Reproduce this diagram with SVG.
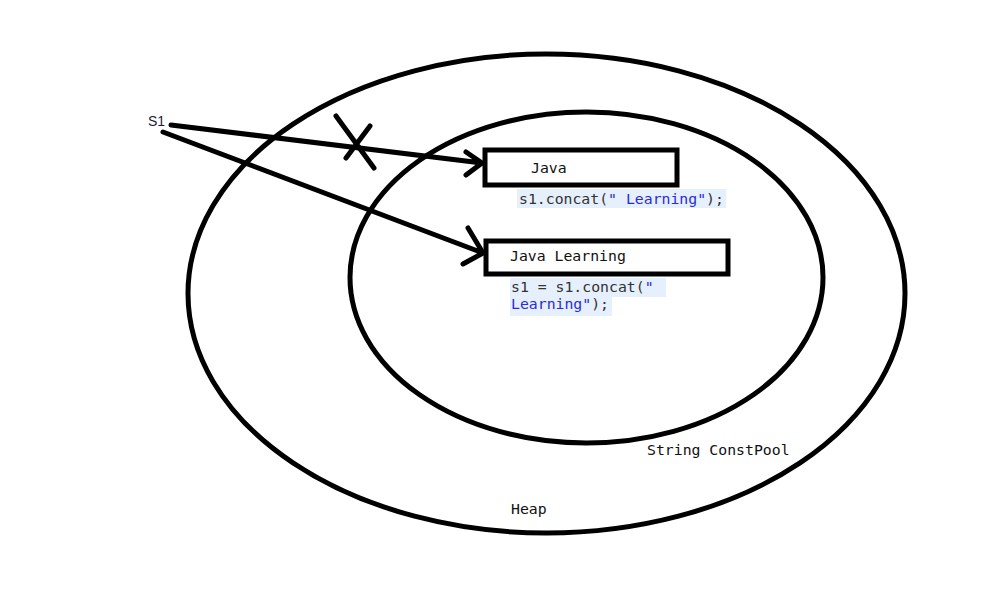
<svg xmlns="http://www.w3.org/2000/svg" width="1000" height="600" viewBox="0 0 1000 600">
<style>
.ring{fill:none;stroke:#000;stroke-width:5}
.box{fill:#fff;stroke:#000;stroke-width:5}
.ln{fill:none;stroke:#000;stroke-width:5;stroke-linecap:round;stroke-linejoin:round}
.mono{font-family:"DejaVu Sans Mono","Liberation Mono",monospace;font-size:14.8px;fill:#111}
.code{font-family:"DejaVu Sans Mono","Liberation Mono",monospace;font-size:14.8px;fill:#333}
.str{fill:#2a2ae0}
.hl{fill:#e6f0fc}
</style>
<rect width="1000" height="600" fill="#fff"/>
<g id="heap">
<ellipse class="ring" cx="546.5" cy="293.5" rx="358.5" ry="239.5"/>
<text class="mono" x="511" y="514">Heap</text>
</g>
<g id="pool">
<ellipse class="ring" cx="586.5" cy="277.5" rx="236.5" ry="165.5"/>
<text class="mono" x="647" y="455">String ConstPool</text>
</g>
<g id="java">
<rect class="box" x="485" y="150" width="192" height="35"/>
<text class="mono" x="531" y="173">Java</text>
<rect class="hl" x="517" y="189" width="209" height="19"/>
<text class="code" x="519" y="204">s1.concat(<tspan class="str">" Learning"</tspan>);</text>
</g>
<g id="javaLearning">
<rect class="box" x="486" y="241" width="242" height="33"/>
<text class="mono" x="510" y="261">Java Learning</text>
<rect class="hl" x="510" y="278" width="156" height="19"/>
<rect class="hl" x="510" y="297" width="102" height="19"/>
<text class="code" x="511" y="292">s1 = s1.concat(<tspan class="str">"</tspan></text>
<text class="code" x="511" y="309"><tspan class="str">Learning"</tspan>);</text>
</g>
<g id="s1">
<text x="148" y="126" font-family="Liberation Sans, Arial, sans-serif" font-size="14" fill="#1a1a3a">S1</text>
</g>
<g id="connectors">
<path class="ln" d="M171 125 L482 163 M466 152 L482 163 L466 175"/>
<path class="ln" d="M163 132 L483 253 M468 228 L483 253 L463 264"/>
<path class="ln" d="M336 116 L374 168 M370 126 L346 158"/>
</g>
</svg>
